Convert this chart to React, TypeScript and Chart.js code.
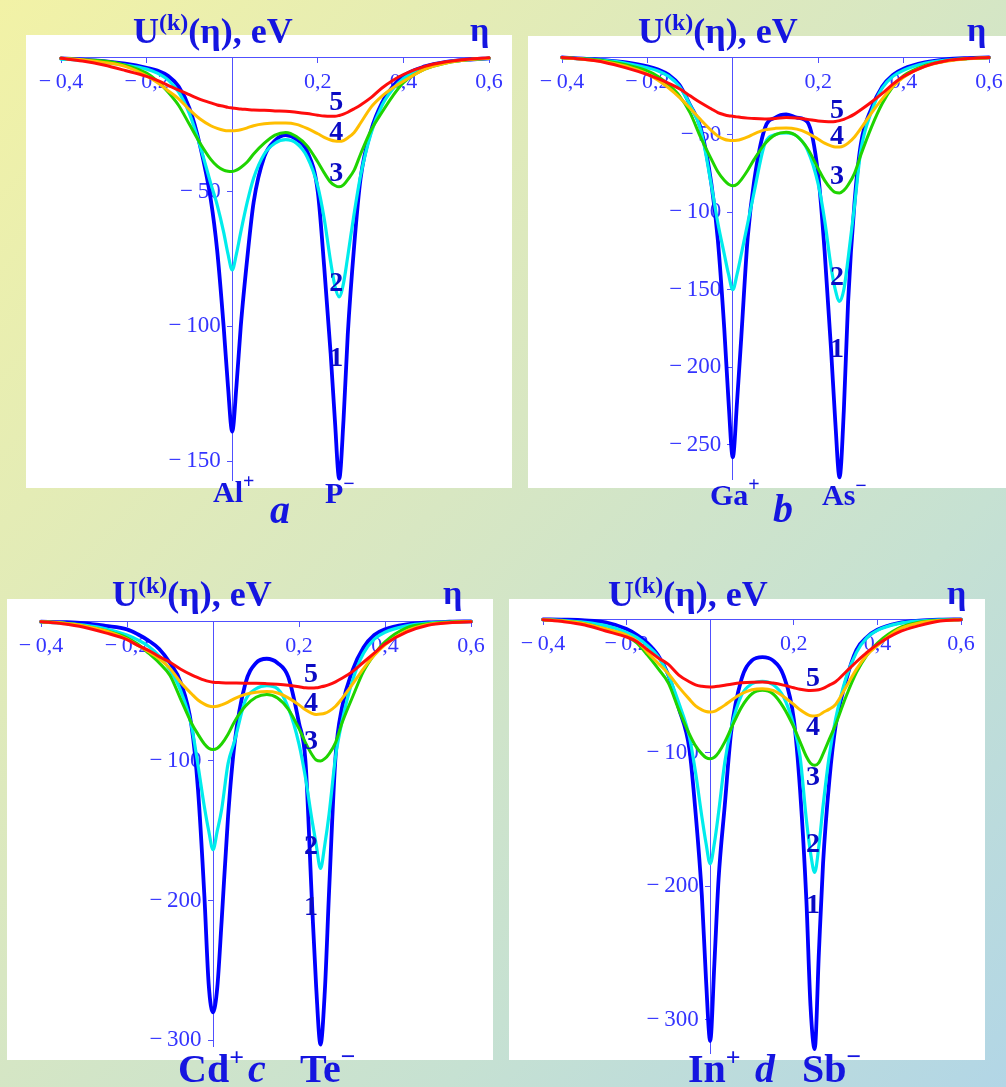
import React, { useEffect, useRef } from 'react';
import { Chart, registerables } from 'chart.js';

Chart.register(...registerables);

// η grid shared by every panel (denser around the two ion sites at 0 and 0.25)
const eta = [
  -0.4, -0.35, -0.3, -0.25, -0.2,
  -0.175, -0.15, -0.125, -0.1, -0.075,
  -0.05, -0.035, -0.02, -0.01, 0,
  0.01, 0.02, 0.035, 0.05, 0.075,
  0.1, 0.125, 0.15, 0.175, 0.2,
  0.215, 0.23, 0.24, 0.25, 0.26,
  0.27, 0.285, 0.3, 0.325, 0.35,
  0.375, 0.4, 0.45, 0.5, 0.55,
  0.6,
];

// tick values
const etaTicks = [-0.4, -0.2, 0.2, 0.4, 0.6];
const alpTicks = [-50, -100, -150];
const gaasTicks = [-50, -100, -150, -200, -250];
const cdteTicks = [-100, -200, -300];
const insbTicks = [-100, -200, -300];

// (a) AlP, U^(k)(η) in eV for k = 1..5
const alpU1 = [
  -0.5, -1, -1.5, -2.5, -4,
  -5, -7, -11, -19, -33,
  -53, -72, -100, -122, -139,
  -122, -100, -75, -54, -37,
  -31, -29, -30.5, -35, -50,
  -78, -110, -135, -156.5, -135,
  -103, -70, -45, -27, -17,
  -11, -7, -3.5, -1.8, -1,
  -0.5,
];
const alpU2 = [
  -0.8, -1.2, -2, -3, -4.5,
  -6, -8.5, -13, -21, -33,
  -47, -55, -65, -73, -79,
  -73, -65, -54, -45, -36,
  -32, -30.7, -32, -37, -48,
  -60, -76, -85, -89, -84,
  -74, -58, -44, -28, -18,
  -12, -8, -4, -2, -1,
  -0.5,
];
const alpU3 = [
  -0.5, -1, -1.5, -3, -6,
  -9, -13, -18, -25, -32,
  -38, -40.5, -42, -42.4, -42.5,
  -42, -41, -39, -36, -32,
  -29, -28, -29.5, -33, -39,
  -43, -46.5, -47.7, -48.2, -47.5,
  -45.5, -42, -36, -27, -20.5,
  -14.5, -9.5, -4.5, -2.2, -1,
  -0.5,
];
const alpU4 = [
  -0.5, -1, -2, -3.5, -7,
  -9.5, -12.5, -15.5, -19.5, -23,
  -25.5, -26.5, -27.2, -27.4, -27.4,
  -27.3, -27, -26.3, -25.5, -24.8,
  -24.5, -24.5, -25, -26.5, -28.5,
  -29.8, -30.8, -31.2, -31.3, -31,
  -30, -28, -24.5, -18.5, -14.5,
  -11.5, -9, -4.5, -2.2, -1,
  -0.5,
];
const alpU5 = [
  -0.5, -1.5, -3, -5, -7.2,
  -8.7, -10.5, -12.3, -14, -15.7,
  -17, -17.8, -18.3, -18.7, -18.9,
  -19.1, -19.3, -19.5, -19.7, -19.8,
  -20, -20.1, -20.5, -21, -21.6,
  -21.9, -22, -22, -21.7, -21.2,
  -20.5, -19.2, -17.8, -15, -11.5,
  -8.7, -6.5, -3.5, -1.8, -0.8,
  -0.3,
];

// (b) GaAs
const gaasU1 = [
  -0.3, -1, -2, -3.5, -6,
  -8, -11.5, -18, -31, -46,
  -82, -118, -175, -222, -258,
  -222, -180, -116, -80, -46,
  -39, -37, -39, -42, -76,
  -125, -188, -235, -271, -228,
  -158, -94, -56, -33, -19,
  -11.5, -7.5, -3.5, -1.5, -0.7,
  -0.3,
];
const gaasU2 = [
  -0.5, -1.2, -2.2, -4, -7,
  -9, -12.5, -19, -31, -47,
  -83, -107, -127, -140, -150,
  -140, -127, -107, -87, -56,
  -50, -49, -51, -60, -82,
  -105, -135, -150, -157.5, -150,
  -130, -96, -60, -35, -20,
  -12.5, -8.5, -4, -2, -1,
  -0.5,
];
const gaasU3 = [
  -0.5, -1.2, -2.5, -5, -9,
  -12.5, -18, -25, -36, -52,
  -66, -74, -79.5, -82, -83,
  -82, -79, -73, -66, -56,
  -50, -48.5, -51, -59, -72,
  -79.5, -85, -87.3, -87.6, -86,
  -82.5, -75, -63, -45, -30,
  -19, -12, -5.5, -2.5, -1,
  -0.4,
];
const gaasU4 = [
  -0.5, -1.5, -3, -6, -11,
  -15, -20, -26, -33, -40.5,
  -47.5, -51, -53, -53.7, -53.9,
  -53.7, -53, -51.5, -49.5, -47,
  -46, -45.7, -46.5, -49, -53,
  -55.5, -57.3, -58, -58, -57.3,
  -55.5, -51.5, -46, -36, -27,
  -19, -13, -6, -2.7, -1.2,
  -0.5,
];
const gaasU5 = [
  -0.3, -1.5, -3.5, -7, -11.3,
  -14, -17, -20.5, -25, -29.5,
  -33.5, -35.8, -37.2, -37.9, -38.2,
  -38.6, -39, -39.4, -39.7, -39.9,
  -39.6, -39, -39.3, -40.2, -41.2,
  -41.6, -41.8, -41.6, -41, -40.2,
  -39, -36.8, -34, -29, -23.5,
  -17.5, -12.5, -6, -2.4, -1,
  -0.3,
];

// (c) CdTe
const cdteU1 = [
  -0.5, -0.8, -1.5, -3.5, -6,
  -9.5, -14, -20, -30, -44,
  -75, -120, -197, -260, -280,
  -262, -215, -140, -88, -45,
  -30, -27, -30, -40, -73,
  -100, -200, -262, -303, -265,
  -193, -97, -62, -35, -19,
  -10, -6, -2.5, -1, -0.5,
  -0.3,
];
const cdteU2 = [
  -0.8, -1.5, -3, -5.5, -10,
  -13.5, -18, -25, -35, -50,
  -75, -103, -133, -150, -163.6,
  -150, -135, -102, -86, -57,
  -48.5, -46.2, -48.5, -62, -88,
  -112, -142, -160, -177, -160,
  -138, -97, -72, -42, -23,
  -13, -8, -3.5, -1.5, -0.7,
  -0.3,
];
const cdteU3 = [
  -0.5, -1.5, -3.5, -7, -12,
  -16.5, -23, -30, -39, -56,
  -73, -81, -88, -91, -92,
  -91, -88, -81, -72, -61,
  -54.5, -52.5, -55, -63, -77,
  -87, -95.5, -99.5, -100.2, -98.5,
  -95, -87, -73, -54, -36,
  -24, -15, -5, -2, -0.8,
  -0.3,
];
const cdteU4 = [
  -0.5, -1.5, -3.5, -7, -13,
  -17.5, -22, -27, -34, -44,
  -52, -56.5, -59.5, -60.8, -61.3,
  -61, -60, -58, -55.5, -52.5,
  -51, -50.5, -51.5, -55, -60,
  -63.5, -66, -66.8, -66.6, -66,
  -64.5, -61, -55.5, -45, -34,
  -24.5, -17, -7, -2.5, -1,
  -0.4,
];
const cdteU5 = [
  -0.5, -2, -4.5, -8.5, -13.3,
  -17.5, -21, -25.5, -29.5, -34.5,
  -38.5, -40.5, -42.3, -43.2, -43.8,
  -44, -44.2, -44.3, -44.4, -44.5,
  -44.5, -44.8, -45.3, -46, -47,
  -47.8, -48, -47.8, -47.2, -46.5,
  -45.5, -43.5, -41, -36, -29.5,
  -23, -16.5, -8, -3, -1.2,
  -0.5,
];

// (d) InSb
const insbU1 = [
  -0.3, -0.5, -1, -2.5, -7.5,
  -12, -18, -27, -42, -67,
  -97, -145, -207, -270, -316,
  -258, -195, -139, -85, -45,
  -31, -28.5, -31, -42, -75,
  -128, -210, -290, -322, -250,
  -183, -121, -80, -46, -23,
  -13.5, -8, -3, -1.2, -0.5,
  -0.3,
];
const insbU2 = [
  -0.5, -1.2, -2.5, -5, -10,
  -14, -20, -28, -42, -63,
  -88, -115, -148, -168, -183.3,
  -168, -145, -107, -82, -57,
  -48.5, -46.7, -49, -58, -80,
  -103, -150, -175, -189.8, -170,
  -140, -102, -75, -44, -25,
  -14, -8.5, -3.5, -1.5, -0.7,
  -0.3,
];
const insbU3 = [
  -0.5, -1.5, -3.5, -7.5, -13,
  -18, -27, -37, -48, -68,
  -86, -95, -101, -103.8, -104.6,
  -103.5, -100, -92, -82, -66,
  -56, -53.4, -56, -66, -81,
  -92, -103, -108, -109.6, -107.5,
  -101, -90, -79, -58, -40,
  -27, -18, -7, -2.5, -1,
  -0.4,
];
const insbU4 = [
  -0.5, -1.5, -3.5, -7.5, -12,
  -16.5, -25, -33, -41, -51,
  -60, -65, -68, -69.3, -69.7,
  -69.2, -67.5, -64.5, -61, -56,
  -53, -52.2, -53.5, -58, -64,
  -68, -71, -72.4, -72.7, -72,
  -70, -67.5, -64, -51, -37.5,
  -27, -20, -8, -3, -1.2,
  -0.5,
];
const insbU5 = [
  -0.5, -2, -4.5, -9, -13.5,
  -17, -23, -29, -34, -42,
  -47, -49.3, -50.4, -50.8, -50.9,
  -50.7, -50.3, -49.6, -48.8, -47.8,
  -47.3, -47.2, -48, -49.5, -51.5,
  -52.6, -53.3, -53.5, -53.4, -53,
  -52, -49.5, -47, -39.5, -32,
  -25, -19, -10, -5, -1.5,
  -0.5,
];

// curve numbers, and where each number sits (η, U) in every panel
const curveNames = ['1', '2', '3', '4', '5'];
const alpTagEta = 0.243;
const alpTagU = [-112, -84, -43.5, -28, -17];
const gaasTagEta = 0.244;
const gaasTagU = [-189, -142, -77, -51.6, -34.5];
const cdteTagEta = 0.228;
const cdteTagU = [-205, -161.6, -86.7, -59, -38.4];
const insbTagEta = 0.246;
const insbTagU = [-215, -169, -119, -81.6, -45];

const SERIF = '"Liberation Serif", "Times New Roman", "DejaVu Serif", serif';
const LINE_COLORS = ['#0000ff', '#00ecec', '#1fd400', '#ffbe00', '#ff0c0c'];
const LINE_WIDTHS = [3.8, 3.2, 3, 3, 3];
const AXIS_COLOR = '#5050ff';
const TICK_COLOR = '#3434ff';
const TAG_COLOR = '#0a0ac4';
const TEXT_COLOR = '#1515e0';
const PAD = 60;

type PanelSpec = {
  series: number[][];
  yMin: number;
  yTicks: number[];
  tagEta: number;
  tagU: number[];
  // pixel frame of the plotting area on the page
  left: number;
  right: number;
  top: number;
  bottom: number;
};

const panels: PanelSpec[] = [
  { series: [alpU1, alpU2, alpU3, alpU4, alpU5], yMin: -157, yTicks: alpTicks, tagEta: alpTagEta, tagU: alpTagU, left: 61, right: 489, top: 57, bottom: 480 },
  { series: [gaasU1, gaasU2, gaasU3, gaasU4, gaasU5], yMin: -272, yTicks: gaasTicks, tagEta: gaasTagEta, tagU: gaasTagU, left: 562, right: 989, top: 57, bottom: 479 },
  { series: [cdteU1, cdteU2, cdteU3, cdteU4, cdteU5], yMin: -304, yTicks: cdteTicks, tagEta: cdteTagEta, tagU: cdteTagU, left: 41, right: 471, top: 621, bottom: 1046 },
  { series: [insbU1, insbU2, insbU3, insbU4, insbU5], yMin: -325, yTicks: insbTicks, tagEta: insbTagEta, tagU: insbTagU, left: 543, right: 961, top: 619, bottom: 1053 },
];

const MINUS = '\u2212\u2009';

function fmtEta(v: number): string {
  const s = Math.abs(v).toFixed(1).replace('.', ',');
  return v < 0 ? MINUS + s : s;
}

// trailing en space keeps the right-aligned label clear of the tick mark
function fmtU(v: number): string {
  const s = String(Math.round(Math.abs(v)));
  return (v < 0 ? MINUS + s : s) + '\u2002';
}

// draws the curve numbers 1..5 next to the anion well
const curveTags = {
  id: 'curveTags',
  afterDatasetsDraw(chart: any, _args: any, opts: any) {
    const { ctx, scales } = chart;
    ctx.save();
    ctx.font = `bold 28px ${SERIF}`;
    ctx.fillStyle = TAG_COLOR;
    ctx.textAlign = 'center';
    ctx.textBaseline = 'middle';
    const px = scales.x.getPixelForValue(opts.eta);
    (opts.values as number[]).forEach((u, i) => {
      ctx.fillText(curveNames[i], px, scales.y.getPixelForValue(u));
    });
    ctx.restore();
  },
};

function PanelChart({ spec }: { spec: PanelSpec }) {
  const ref = useRef<HTMLCanvasElement>(null);
  const w = spec.right - spec.left + 2 * PAD;
  const h = spec.bottom - spec.top + 2 * PAD;

  useEffect(() => {
    if (!ref.current) return;
    const chart = new Chart(ref.current, {
      type: 'line',
      data: {
        datasets: spec.series.map((vals, i) => ({
          label: curveNames[i],
          data: eta.map((x, j) => ({ x, y: vals[j] })),
          borderColor: LINE_COLORS[i],
          borderWidth: LINE_WIDTHS[i],
          borderJoinStyle: 'round',
          borderCapStyle: 'round',
          pointRadius: 0,
          fill: false,
          cubicInterpolationMode: 'monotone',
          order: 5 - i,
          clip: false,
        })),
      },
      options: {
        animation: false,
        responsive: false,
        devicePixelRatio: 1,
        events: [],
        layout: { padding: PAD },
        plugins: {
          legend: { display: false },
          tooltip: { enabled: false },
          curveTags: { eta: spec.tagEta, values: spec.tagU },
        } as any,
        scales: {
          x: {
            type: 'linear',
            min: -0.4,
            max: 0.6,
            position: { y: 0 } as any,
            afterBuildTicks: (axis: any) => {
              axis.ticks = etaTicks.map((value) => ({ value }));
            },
            ticks: {
              autoSkip: false,
              maxRotation: 0,
              padding: 7,
              color: TICK_COLOR,
              font: { family: SERIF, size: 22 },
              callback: (v: any) => fmtEta(Number(v)),
            },
            grid: { drawOnChartArea: false, drawTicks: true, tickLength: 5, color: AXIS_COLOR, lineWidth: 1 },
            border: { display: true, color: AXIS_COLOR, width: 1 },
          },
          y: {
            type: 'linear',
            min: spec.yMin,
            max: 0,
            position: { x: 0 } as any,
            afterBuildTicks: (axis: any) => {
              axis.ticks = spec.yTicks.map((value) => ({ value }));
            },
            ticks: {
              autoSkip: false,
              color: TICK_COLOR,
              font: { family: SERIF, size: 23 },
              callback: (v: any) => fmtU(Number(v)),
            },
            grid: { drawOnChartArea: false, drawTicks: true, tickLength: 5, color: AXIS_COLOR, lineWidth: 1 },
            border: { display: true, color: AXIS_COLOR, width: 1 },
          },
        },
      },
      plugins: [curveTags],
    } as any);
    return () => chart.destroy();
  }, [spec]);

  return (
    <canvas
      ref={ref}
      width={w}
      height={h}
      style={{ position: 'absolute', left: spec.left - PAD, top: spec.top - PAD, width: w, height: h }}
    />
  );
}

function Txt({ x, base, size, italic, children }: { x: number; base: number; size: number; italic?: boolean; children: React.ReactNode }) {
  return (
    <div
      style={{
        position: 'absolute',
        left: x,
        top: base - 0.8375 * size,
        fontFamily: SERIF,
        fontWeight: 700,
        fontStyle: italic ? 'italic' : 'normal',
        fontSize: size,
        lineHeight: `${size}px`,
        whiteSpace: 'nowrap',
        color: TEXT_COLOR,
      }}
    >
      {children}
    </div>
  );
}

function Sup({ size, raise, children }: { size: number; raise: number; children: React.ReactNode }) {
  return (
    <span style={{ fontSize: size, lineHeight: 0, position: 'relative', top: -raise }}>{children}</span>
  );
}

function AxisTitle({ x, base }: { x: number; base: number }) {
  return (
    <Txt x={x} base={base} size={36}>
      U<Sup size={24} raise={13}>(k)</Sup>(η), eV
    </Txt>
  );
}

const whiteBoxes = [
  { left: 26, top: 35, width: 486, height: 453 },
  { left: 528, top: 36, width: 478, height: 452 },
  { left: 7, top: 599, width: 486, height: 461 },
  { left: 509, top: 599, width: 476, height: 461 },
];

export default function App() {
  return (
    <div
      style={{
        position: 'absolute',
        left: 0,
        top: 0,
        width: 1006,
        height: 1087,
        overflow: 'hidden',
        background: 'linear-gradient(to bottom right, #f2f2a6 0%, #d8e7c2 45%, #c6e1d2 72%, #b2d6e6 100%)',
      }}
    >
      {whiteBoxes.map((b, i) => (
        <div key={i} style={{ position: 'absolute', background: '#ffffff', ...b }} />
      ))}
      {panels.map((p, i) => (
        <PanelChart key={i} spec={p} />
      ))}

      <AxisTitle x={133} base={43} />
      <AxisTitle x={638} base={43} />
      <AxisTitle x={112} base={606} />
      <AxisTitle x={608} base={606} />

      <Txt x={470} base={41} size={34}>η</Txt>
      <Txt x={967} base={41} size={34}>η</Txt>
      <Txt x={443} base={604} size={34}>η</Txt>
      <Txt x={947} base={604} size={34}>η</Txt>

      <Txt x={213} base={502} size={30}>Al<Sup size={20} raise={14}>+</Sup></Txt>
      <Txt x={325} base={503} size={30}>P<Sup size={20} raise={13}>−</Sup></Txt>
      <Txt x={270} base={523} size={40} italic>a</Txt>

      <Txt x={710} base={505} size={30}>Ga<Sup size={20} raise={14}>+</Sup></Txt>
      <Txt x={773} base={522} size={40} italic>b</Txt>
      <Txt x={822} base={505} size={30}>As<Sup size={20} raise={13}>−</Sup></Txt>

      <Txt x={178} base={1082} size={40}>Cd<Sup size={26} raise={16}>+</Sup></Txt>
      <Txt x={248} base={1082} size={40} italic>c</Txt>
      <Txt x={300} base={1082} size={40}>Te<Sup size={26} raise={17}>−</Sup></Txt>

      <Txt x={688} base={1082} size={40}>In<Sup size={26} raise={16}>+</Sup></Txt>
      <Txt x={755} base={1082} size={40} italic>d</Txt>
      <Txt x={802} base={1082} size={40}>Sb<Sup size={26} raise={17}>−</Sup></Txt>
    </div>
  );
}
